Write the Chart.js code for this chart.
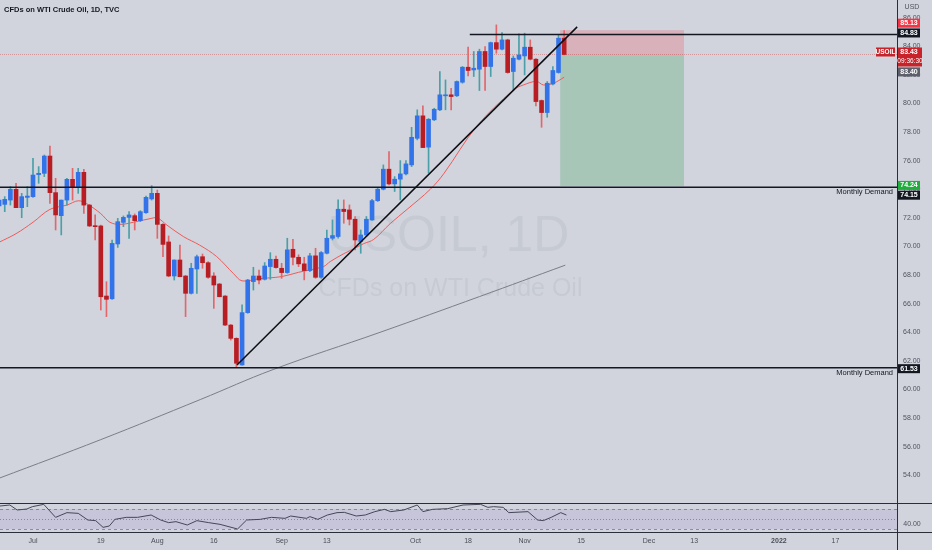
<!DOCTYPE html>
<html>
<head>
<meta charset="utf-8">
<script src="https://cdn.jsdelivr.net/npm/chart.js@4.4.0/dist/chart.umd.min.js"></script>
<style>
  html, body { margin: 0; padding: 0; background: #d1d4dc; }
  canvas { display: block; }
</style>
</head>
<body>
<canvas id="chart" width="932" height="550"></canvas>
<script>
// Daily candles, bar index 0 = 1 Jul 2021 (weekdays)
const firstBar = -6;
const opens  = [72.84,72.95,73.25,74.00,72.72,73.44, 73.49,75.03,75.12,76.33,73.77,72.16,73.25,74.70,74.19,75.19,
  72.90,71.44,71.44,66.54,66.35,70.18,71.69,72.04,72.16,71.81,72.37,73.33,73.72,71.55,70.32,67.94,69.06,67.94,
  66.73,68.43,69.29,68.87,67.94,67.38,66.54,64.51,63.58,61.72,65.38,67.55,67.94,67.71,68.60,69.11,68.48,68.18,
  69.81,69.25,68.79,68.32,69.35,67.85,69.53,70.58,70.70,72.61,72.56,71.91,70.35,70.81,71.86,73.21,74.01,75.41,
  74.38,74.71,75.08,75.71,77.57,79.14,76.95,78.86,79.56,80.54,80.61,80.54,81.49,82.54,82.35,82.40,83.64,82.59,
  84.26,83.80,84.45,82.24,83.10,83.33,83.94,83.10,80.21,79.37,81.37,82.17,84.57];
const highs  = [73.37,73.49,74.19,74.42,73.72,74.19, 76.17,75.59,76.40,77.03,74.77,73.25,74.77,75.47,75.47,75.40,
  72.95,72.21,71.50,67.54,70.46,71.97,72.14,72.44,72.28,72.51,73.53,74.26,73.95,71.60,70.74,69.06,70.11,67.98,
  68.83,69.41,69.48,68.94,68.17,67.42,66.58,64.55,63.62,65.92,67.71,68.55,68.36,68.88,69.57,69.34,68.83,70.58,
  70.51,69.42,69.25,69.53,69.88,69.65,71.16,71.86,73.26,73.26,72.91,72.10,71.16,72.10,73.31,74.08,75.71,76.64,
  74.89,76.01,76.01,78.34,79.56,79.84,78.95,79.67,82.24,81.65,81.07,81.58,82.59,83.94,83.64,83.80,83.98,84.30,
  85.50,84.96,84.50,83.33,84.87,84.92,84.45,83.14,80.25,81.54,82.59,84.80,85.10];
const lows   = [72.67,72.44,72.90,72.72,72.02,72.79, 73.44,74.42,74.89,73.02,71.16,70.81,72.90,73.25,73.72,72.32,
  71.39,70.46,65.56,65.10,66.31,69.94,71.39,70.57,71.16,71.74,72.32,73.25,70.57,69.29,67.89,67.66,67.89,65.10,
  66.68,66.73,68.48,67.78,65.68,66.49,64.47,63.46,61.60,61.70,65.33,66.96,67.38,67.66,67.71,68.48,67.78,68.13,
  68.72,68.60,67.67,68.25,67.78,67.78,69.49,70.46,70.58,71.63,71.51,69.77,69.53,70.70,71.82,73.15,73.96,74.31,
  73.85,73.26,75.01,75.59,77.46,76.92,75.13,78.81,79.51,79.56,79.56,80.49,81.42,81.93,81.89,80.91,80.91,81.89,
  83.52,83.75,82.12,80.95,83.05,82.00,83.05,79.84,78.34,79.04,81.30,82.12,83.40];
const closes = [73.25,73.30,74.00,72.72,73.49,73.53, 75.00,75.12,76.33,73.77,72.21,73.25,74.70,74.19,75.19,72.90,
  71.44,71.39,66.49,66.31,70.22,71.74,72.04,72.21,71.81,72.44,73.44,73.72,71.55,70.15,67.94,69.06,67.89,66.73,
  68.48,69.29,68.87,67.85,67.31,66.49,64.51,63.58,61.84,65.38,67.66,67.94,67.66,68.64,69.11,68.53,68.18,69.77,
  69.25,68.79,68.32,69.35,67.85,69.58,70.58,70.77,72.61,72.45,71.91,70.46,70.81,71.91,73.21,74.01,75.41,74.38,
  74.71,75.08,75.78,77.64,79.14,76.92,78.90,79.60,80.61,80.61,80.49,81.54,82.54,82.31,82.47,83.64,82.59,84.26,
  83.80,84.45,82.17,83.17,83.40,83.94,83.10,80.14,79.37,81.42,82.31,84.57,83.43];

// moving averages: [bar, price]
const emaFast = [[-6,70.3],[-3,70.9],[0,71.7],[3,72.6],[6,72.9],[8,73.2],[9.5,73.0],[12,72.3],[13.6,71.7],
  [15.4,71.55],[17.8,71.7],[20.7,71.95],[22,72.0],[23.7,71.5],[26.6,70.7],[29.5,70.1],[32.5,69.3],[35.5,68.1],
  [37,67.6],[40,67.75],[44,67.9],[47,68.2],[51.4,68.6],[52.6,68.95],[55,69.5],[57.3,69.95],[58.5,70.2],
  [60.3,70.5],[63.2,71.6],[66.2,72.6],[70.3,74.0],[72.7,75.1],[78.5,78.4],[85,80.95],[86.8,81.3],[89.1,81.55],
  [90.3,81.3],[92.1,81.42],[94,81.84]];
const sma200 = [[-6,53.8],[12,56.5],[29.6,59.3],[42.5,61.4],[61.4,64.0],[79,66.5],[94.2,68.7]];

// RSI: [bar, value]
const rsi = [[-5.84,76],[-4.1,78],[-2.8,68],[-1.1,70],[-0.1,74.7],[1.9,79.3],[4.0,53.3],[6.0,62.7],[8.0,61.3],
  [9.7,48],[11.1,46.7],[12.4,33.3],[13.5,36],[14.5,49.3],[16.5,53.3],[18.5,53.3],[20.9,58],[22.6,48],[24.0,42.7],
  [25.3,44.7],[27.3,38],[29.0,46.7],[31.1,42.7],[33.1,39.3],[36.2,30],[37.8,48],[40.2,49.3],[42.2,53.3],
  [44.6,51.3],[45.6,56],[48.4,51.3],[49.0,54.7],[50.4,49.3],[52.1,58],[53.8,62.7],[55.1,63.3],[57.2,56],
  [58.8,58],[60.5,64.7],[62.2,69.3],[63.3,64.7],[65.6,68],[68.0,78],[69.0,64.7],[70.7,69.3],[73.4,70.7],
  [76.1,78],[79.2,79.3],[80.5,73.3],[81.5,74.7],[83.2,73.3],[84.2,62.7],[87.6,64.7],[89.3,48],[90.3,46.7],
  [91.7,53.3],[93.4,62.7],[94.4,58]];

// drawings
const trendLine = [[36.1,61.72],[96.3,85.36]];
const resistance = 84.83, resistanceFrom = 77.3;
const demandLevels = [74.15, 61.53];
const stopLevel = 85.13, entryLevel = 83.40, targetLevel = 74.24;
const positionFrom = 93.3, positionTo = 115.2;
const lastPrice = 83.43;

// axes
const xTickPos = [0,12,22,32,44,52,67.7,77,87,97,109,117,132,142];
const xTickLabels = ['Jul','19','Aug','16','Sep','13','Oct','18','Nov','15','Dec','13','2022','17'];
const priceTicks = [54,56,58,60,62,64,66,68,70,72,74,76,78,80,82,84,86];
const xMin = -5.84, xMax = 152.9;

const upBody = '#3273ea', downBody = '#b71d22';
const upWick = '#4a9fa8', downWick = '#e0676b';
const FONT = '"Liberation Sans", Arial, sans-serif';

const idx = closes.map((c, k) => firstBar + k);
const isUp = closes.map((c, k) => c >= opens[k]);

function box(ctx, x, y, w, h, fill) { ctx.fillStyle = fill; ctx.fillRect(x, y, w, h); }

const tvPlugin = {
  id: 'tvDecor',
  beforeDraw(chart) {
    const {ctx, width, height} = chart;
    ctx.save();
    ctx.fillStyle = '#d1d4dc';
    ctx.fillRect(0, 0, width, height);
    ctx.restore();
  },
  beforeDatasetsDraw(chart) {
    const {ctx, chartArea: a, scales: {x, y, yr}} = chart;
    ctx.save();
    // watermark
    const cx = (a.left + a.right) / 2;
    ctx.fillStyle = 'rgba(40,44,60,0.06)';
    ctx.textAlign = 'center';
    ctx.textBaseline = 'alphabetic';
    ctx.font = '50px ' + FONT;
    ctx.fillText('USOIL, 1D', cx, 251);
    ctx.font = '25px ' + FONT;
    ctx.fillText('CFDs on WTI Crude Oil', cx + 2, 296);

    // short position boxes
    const px0 = x.getPixelForValue(positionFrom), px1 = x.getPixelForValue(positionTo);
    const yS = y.getPixelForValue(stopLevel), yE = y.getPixelForValue(entryLevel), yT = y.getPixelForValue(targetLevel);
    box(ctx, px0, yS, px1 - px0, yE - yS, 'rgba(242,54,69,0.22)');
    box(ctx, px0, yE, px1 - px0, yT - yE, 'rgba(20,150,60,0.22)');

    // RSI band
    const r70 = yr.getPixelForValue(70), r50 = yr.getPixelForValue(50), r30 = yr.getPixelForValue(30);
    box(ctx, a.left, r70, a.right - a.left, r30 - r70, 'rgba(126,87,194,0.12)');
    ctx.strokeStyle = 'rgba(110,113,125,0.7)';
    ctx.lineWidth = 1;
    ctx.setLineDash([3, 3]);
    [r70, r30].forEach(v => { ctx.beginPath(); ctx.moveTo(a.left, Math.round(v) + 0.5); ctx.lineTo(a.right, Math.round(v) + 0.5); ctx.stroke(); });
    ctx.setLineDash([1, 2]);
    ctx.beginPath(); ctx.moveTo(a.left, Math.round(r50) + 0.5); ctx.lineTo(a.right, Math.round(r50) + 0.5); ctx.stroke();

    // last price line
    const yL = Math.round(y.getPixelForValue(lastPrice)) + 0.5;
    ctx.strokeStyle = 'rgba(200,60,60,0.4)';
    ctx.setLineDash([1, 1]);
    ctx.beginPath(); ctx.moveTo(a.left, yL); ctx.lineTo(a.right, yL); ctx.stroke();
    ctx.restore();
  },
  afterDraw(chart) {
    const {ctx, chartArea: a, scales: {x, y, yr}, width, height} = chart;
    ctx.save();
    // pane borders
    ctx.strokeStyle = '#2a2e39';
    ctx.lineWidth = 1;
    const sep = Math.round(yr.getPixelForValue(82)) + 0.5;
    ctx.beginPath();
    ctx.moveTo(0, sep); ctx.lineTo(width, sep);
    ctx.moveTo(0, a.bottom + 0.5); ctx.lineTo(width, a.bottom + 0.5);
    ctx.moveTo(a.right + 0.5, 0); ctx.lineTo(a.right + 0.5, height);
    ctx.stroke();

    // title
    ctx.fillStyle = '#131722';
    ctx.font = 'bold 7.5px ' + FONT;
    ctx.textAlign = 'left';
    ctx.textBaseline = 'middle';
    ctx.fillText('CFDs on WTI Crude Oil, 1D, TVC', 4, 10);

    // axis currency and RSI scale
    ctx.fillStyle = '#50535e';
    ctx.font = '7px ' + FONT;
    ctx.textAlign = 'center';
    ctx.fillText('USD', 912, 7);
    ctx.fillText('40.00', 912, yr.getPixelForValue(40));

    // level captions
    ctx.fillStyle = '#131722';
    ctx.font = '7.5px ' + FONT;
    ctx.textAlign = 'right';
    demandLevels.forEach(v => ctx.fillText('Monthly Demand', a.right - 4, y.getPixelForValue(v) + 5));

    // price tags on the axis
    const tags = [
      {v: stopLevel, bg: '#f23645', dy: -7},
      {v: resistance, bg: '#131722', dy: -1.5},
      {v: entryLevel, bg: '#5d606b', dy: 17},
      {v: targetLevel, bg: '#1fae3c', dy: -0.5},
      {v: demandLevels[0], bg: '#131722', dy: 8},
      {v: demandLevels[1], bg: '#131722', dy: 1}
    ];
    ctx.font = 'bold 7px ' + FONT;
    ctx.textAlign = 'center';
    tags.forEach(t => {
      const cy = y.getPixelForValue(t.v) + t.dy;
      box(ctx, a.right + 1, cy - 4.5, 22, 9, t.bg);
      ctx.fillStyle = '#ffffff';
      ctx.fillText(t.v.toFixed(2), a.right + 12, cy);
    });
    // current price tag
    const yc = y.getPixelForValue(lastPrice);
    box(ctx, a.right + 1, yc - 7, 24, 19, '#c8232a');
    ctx.fillStyle = '#ffffff';
    ctx.fillText(lastPrice.toFixed(2), a.right + 12, yc - 2);
    ctx.font = '6.5px ' + FONT;
    ctx.fillText('09:36:30', a.right + 13, yc + 7);
    box(ctx, a.right - 21, yc - 7, 19, 9, '#c8232a');
    ctx.fillStyle = '#ffffff';
    ctx.font = 'bold 6.5px ' + FONT;
    ctx.fillText('USOIL', a.right - 11.5, yc - 2.5);
    ctx.restore();
  }
};

const xy = pts => pts.map(p => ({x: p[0], y: p[1]}));

new Chart(document.getElementById('chart'), {
  type: 'bar',
  data: {
    datasets: [
      {
        label: 'wicks', order: 4, yAxisID: 'y',
        data: idx.map((i, k) => ({x: i, y: [lows[k], highs[k]]})),
        backgroundColor: isUp.map(u => u ? upWick : downWick),
        barThickness: 1, grouped: false, borderWidth: 0
      },
      {
        label: 'bodies', order: 3, yAxisID: 'y',
        data: idx.map((i, k) => ({x: i, y: [opens[k], closes[k]]})),
        backgroundColor: isUp.map(u => u ? upBody : downBody),
        barThickness: 4, grouped: false, borderWidth: 0, minBarLength: 1
      },
      {
        type: 'line', label: 'EMA', order: 5, yAxisID: 'y', data: xy(emaFast),
        borderColor: '#ef5a5a', borderWidth: 1, pointRadius: 0, tension: 0.35
      },
      {
        type: 'line', label: 'SMA200', order: 6, yAxisID: 'y', data: xy(sma200),
        borderColor: '#7b7e88', borderWidth: 1, pointRadius: 0, tension: 0.4
      },
      {
        type: 'line', label: 'Trend', order: 1, yAxisID: 'y', data: xy(trendLine),
        borderColor: '#0c0e14', borderWidth: 1.5, pointRadius: 0
      },
      {
        type: 'line', label: 'Resistance', order: 2, yAxisID: 'y',
        data: [{x: resistanceFrom, y: resistance}, {x: xMax, y: resistance}],
        borderColor: '#131722', borderWidth: 1.5, pointRadius: 0
      },
      ...demandLevels.map(v => ({
        type: 'line', label: 'Demand ' + v, order: 2, yAxisID: 'y',
        data: [{x: xMin, y: v}, {x: xMax, y: v}],
        borderColor: '#131722', borderWidth: 1.5, pointRadius: 0
      })),
      {
        type: 'line', label: 'RSI', order: 0, yAxisID: 'yr', data: xy(rsi),
        borderColor: '#454857', borderWidth: 1, pointRadius: 0, tension: 0
      }
    ]
  },
  options: {
    responsive: false,
    animation: false,
    devicePixelRatio: 1,
    layout: {padding: 0},
    plugins: {legend: {display: false}, tooltip: {enabled: false}},
    scales: {
      x: {
        type: 'linear', min: xMin, max: xMax, offset: false,
        grid: {display: false, offset: false, drawTicks: false},
        border: {display: false},
        afterBuildTicks: s => { s.ticks = xTickPos.map(v => ({value: v})); },
        afterFit: s => { s.height = 18; s.paddingLeft = 0; s.paddingRight = 0; },
        ticks: {
          autoSkip: false, maxRotation: 0, padding: 5, color: '#4a4d57',
          font: c => ({family: FONT, size: 7, weight: (c.tick && c.tick.value === 132) ? 'bold' : 'normal'}),
          callback: v => xTickLabels[xTickPos.indexOf(v)]
        }
      },
      y: {
        type: 'linear', position: 'right', min: 50.04, max: 87.24,
        grid: {display: false, drawTicks: false},
        border: {display: false},
        afterBuildTicks: s => { s.ticks = priceTicks.map(v => ({value: v})); },
        afterFit: s => { s.width = 35; s.paddingTop = 0; s.paddingBottom = 0; },
        ticks: {padding: 6, color: '#50535e', font: {family: FONT, size: 7}, callback: v => v.toFixed(2)}
      },
      yr: {
        type: 'linear', display: false, min: 24, max: 1088
      }
    }
  },
  plugins: [tvPlugin]
});
</script>
</body>
</html>
